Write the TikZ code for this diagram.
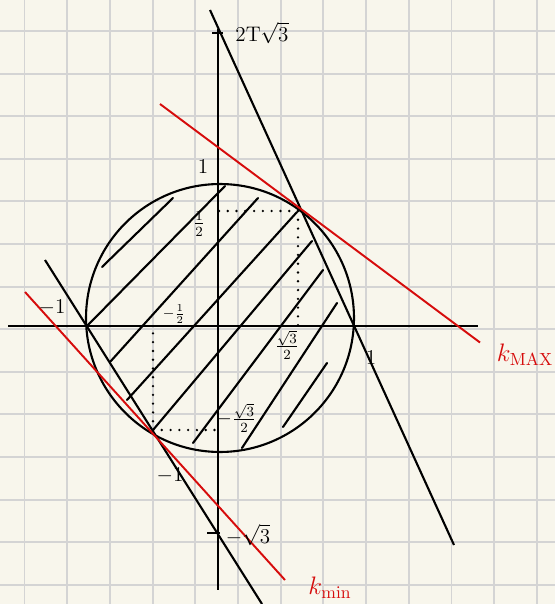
\documentclass[tikz,border=0pt]{standalone}
\usepackage{xcolor}
\usepackage{tikz}
\usetikzlibrary{calc}
\definecolor{sketchpaper}{RGB}{248,246,236}
\definecolor{sketchgrid}{RGB}{212,212,212}
\definecolor{sketchred}{RGB}{214,12,12}

\begin{document}
\begin{tikzpicture}[
  x=0.02cm, y=-0.02cm,
  gridline/.style={sketchgrid, line width=1.1pt},
  axisline/.style={black, line width=1.3pt},
  curve/.style={black, line width=1.2pt},
  level/.style={sketchred, line width=1.1pt},
  hatch/.style={black, line width=1.2pt, line cap=round},
  guide/.style={black, line width=1.5pt, line cap=round, dash pattern=on 0pt off 5pt},
  lbl/.style={font=\large, inner sep=1pt},
  small lbl/.style={font=\footnotesize, inner sep=0pt},
  klbl/.style={font=\Large, text=sketchred, inner sep=1pt}]
\fill[sketchpaper] (0,0) rectangle (555,604);
\useasboundingbox (0,0) rectangle (555,604);
\foreach \i in {0,...,12} \draw[gridline] ({24.5+42.7*\i},0) -- ({24.5+42.7*\i},604);
\foreach \j in {0,...,13} \draw[gridline] (0,{31+42.6*\j}) -- (555,{31+42.6*\j});

\coordinate (O) at (218,326);
\coordinate (xl) at (8,326);
\coordinate (xr) at (478,326);
\coordinate (yt) at (218,29);
\coordinate (yb) at (218,590);
\coordinate (C) at (220,318);
\coordinate (P) at (298,211);
\coordinate (Q) at (153,430);
\coordinate (steepa) at (210,10);
\coordinate (steepb) at (454,545);
\coordinate (lefta) at (45,260);
\coordinate (leftb) at (262,604);
\coordinate (maxa) at (160,104);
\coordinate (maxb) at (480,342.5);
\coordinate (mina) at (25,292);
\coordinate (minb) at (285,580);

\draw[axisline] (xl) -- (xr);
\draw[axisline] (yt) -- (yb);
\draw[axisline] (212,33) -- (223,33);
\draw[axisline] (207,533) -- (220,533);
\draw[curve] (C) circle[radius=2.68cm];

\foreach \ax/\ay/\bx/\by in {102/267/173/198, 87/326/225/186, 110/362/258/198, 127/400/297/212,
  153/430/312/241, 193/443/323/270, 242/448/337/303, 283/427/327/363}
  \draw[hatch] (\ax,\ay) -- (\bx,\by);

\draw[guide] (P) -- (P -| O);
\draw[guide] (P) -- (P |- O);
\draw[guide] (Q) -- (Q -| O);
\draw[guide] (Q) -- (Q |- O);

\draw[curve] (steepa) -- (steepb);
\draw[curve] (lefta) -- (leftb);
\draw[level] (maxa) -- (maxb);
\draw[level] (mina) -- (minb);

\node[lbl] (ltop) at (262,33) {$2\mathrm{T}\sqrt{3}$};
\node[lbl] (lone) at (203,167) {$1$};
\node[lbl] (lhalf) at (199,224) {$\frac{1}{2}$};
\node[lbl] (lmone) at (52,308) {$-1$};
\node[small lbl] (lmhalf) at (174,314) {$-\frac{1}{2}$};
\node[lbl] (lsqrt) at (287,345) {$\frac{\sqrt{3}}{2}$};
\node[lbl] (lmsqrt) at (236,418) {$-\frac{\sqrt{3}}{2}$};
\node[lbl] (lrone) at (371,358) {$1$};
\node[lbl] (lbone) at (170,476) {$-1$};
\node[lbl] (lbsqrt) at (248,535) {$-\sqrt{3}$};
\node[klbl] (kmax) at (525,355) {$k_{\mathrm{MAX}}$};
\node[klbl] (kmin) at (330,588) {$k_{\mathrm{min}}$};
\end{tikzpicture}
\end{document}
